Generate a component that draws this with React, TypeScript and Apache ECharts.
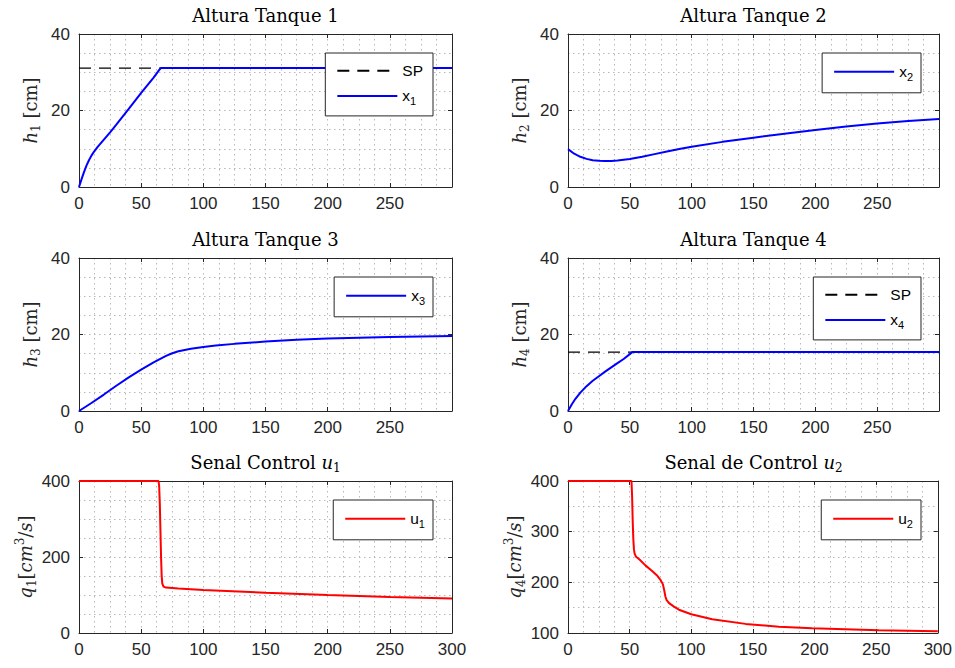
import React, { useEffect, useRef } from "react";
import * as echarts from "echarts";

// ---------------- data ----------------
const X_MAX = 300;
const X_TICK = 50;

const SP1 = 31.1;
const T_X1 = [0, 2, 4, 6, 8, 10, 12, 15, 20, 25, 30, 40, 50, 60, 65, 66, 100, 150, 200, 250, 300];
const V_X1 = [0, 2.0, 3.9, 5.6, 7.0, 8.2, 9.2, 10.5, 12.4, 14.3, 16.3, 20.4, 24.6, 28.6, 30.8, 31.1, 31.1, 31.1, 31.1, 31.1, 31.1];

const T_X2 = [0, 5, 10, 15, 20, 25, 30, 35, 40, 50, 60, 70, 80, 90, 100, 125, 150, 175, 200, 225, 250, 275, 300];
const V_X2 = [9.9, 8.7, 7.9, 7.35, 7.0, 6.85, 6.8, 6.82, 6.9, 7.3, 7.9, 8.6, 9.3, 9.95, 10.5, 11.8, 12.9, 13.95, 14.9, 15.8, 16.6, 17.25, 17.8];

const T_X3 = [0, 10, 20, 30, 40, 50, 60, 70, 75, 80, 85, 90, 100, 110, 125, 150, 175, 200, 250, 300];
const V_X3 = [0, 2.1, 4.3, 6.6, 8.8, 10.8, 12.7, 14.4, 15.1, 15.6, 15.95, 16.25, 16.75, 17.1, 17.55, 18.15, 18.6, 18.95, 19.35, 19.6];

const SP4 = 15.4;
const T_X4 = [0, 3, 6, 10, 15, 20, 25, 30, 35, 40, 45, 52, 100, 150, 200, 250, 300];
const V_X4 = [0, 1.7, 3.2, 4.8, 6.5, 7.9, 9.1, 10.3, 11.4, 12.5, 13.6, 15.4, 15.4, 15.4, 15.4, 15.4, 15.4];

const T_U1 = [0, 64, 64.5, 65, 65.5, 66, 66.5, 67, 68, 70, 80, 100, 150, 200, 250, 300];
const V_U1 = [400, 400, 385, 340, 270, 200, 150, 130, 122, 119.5, 117, 113, 106, 100, 95, 91];

const T_U2 = [0, 51.5, 52, 52.5, 53, 53.5, 54, 55, 58, 63, 68, 72, 75, 77, 78, 79, 80, 82, 86, 90, 100, 117, 144, 171, 198, 225, 252, 275, 300];
const V_U2 = [400, 400, 370, 320, 285, 265, 257, 251, 245, 233, 223, 214, 205, 196, 185, 172, 165, 159, 152, 146, 137, 127, 118, 112.5, 109.5, 107.5, 105.5, 104.5, 103.5];

const TITLES = [
  "{n|Altura Tanque 1}",
  "{n|Altura Tanque 2}",
  "{n|Altura Tanque 3}",
  "{n|Altura Tanque 4}",
  "{n|Senal Control }{i|u}{s|1}",
  "{n|Senal de Control }{i|u}{s|2}",
];
const YLABELS = [
  "{i|h}{s|1}{n| [cm]}",
  "{i|h}{s|2}{n| [cm]}",
  "{i|h}{s|3}{n| [cm]}",
  "{i|h}{s|4}{n| [cm]}",
  "{i|q}{s|1}{n|[}{i|cm}{p|3}{n|/}{i|s}{n|]}",
  "{i|q}{s|4}{n|[}{i|cm}{p|3}{n|/}{i|s}{n|]}",
];
const Y_RANGES = [
  [0, 40, 20, 4],
  [0, 40, 20, 4],
  [0, 40, 20, 4],
  [0, 40, 20, 4],
  [0, 400, 200, 4],
  [100, 400, 100, 2],
];

const zip = (t: number[], v: number[]) => t.map((x, i) => [x, v[i]]);

// ---------------- styles ----------------
const AX = "#262626";
const SERIF = "DejaVu Serif";
const SANS = "Liberation Sans";
const gridLine = { color: "#b8b8b8", width: 1, type: [1.5, 3.5] as any };

const GRIDS = [
  { left: 79, top: 34, width: 373, height: 153 },
  { left: 568, top: 34, width: 371, height: 153 },
  { left: 79, top: 258, width: 373, height: 153 },
  { left: 568, top: 258, width: 371, height: 153 },
  { left: 79, top: 481, width: 373, height: 152 },
  { left: 568, top: 481, width: 371, height: 152 },
];
const TITLE_TOPS = [3, 3, 227, 227, 450, 450];

const titleRich = {
  n: { fontFamily: SERIF, fontSize: 18, color: "#000", lineHeight: 24 },
  i: { fontFamily: SERIF, fontSize: 18, fontStyle: "italic", color: "#000", lineHeight: 24 },
  s: { fontFamily: SERIF, fontSize: 12, color: "#000", lineHeight: 14, verticalAlign: "bottom" },
};
const nameRich = {
  n: { fontFamily: SERIF, fontSize: 18, color: AX, lineHeight: 24 },
  i: { fontFamily: SERIF, fontSize: 18, fontStyle: "italic", color: AX, lineHeight: 24 },
  s: { fontFamily: SERIF, fontSize: 12, color: AX, lineHeight: 14, verticalAlign: "bottom" },
  p: { fontFamily: SERIF, fontSize: 12, color: AX, lineHeight: 12, verticalAlign: "top" },
};
const legendRich = {
  t: { fontFamily: SANS, fontSize: 15.5, color: "#000", lineHeight: 22 },
  s: { fontFamily: SANS, fontSize: 11, color: "#000", lineHeight: 8, verticalAlign: "bottom" },
};

function buildOption() {
  const xAxis: any[] = [];
  const yAxis: any[] = [];
  GRIDS.forEach((_, gi) => {
    const lastRow = gi >= 4;
    const base = {
      type: "value",
      gridIndex: gi,
      min: 0,
      max: X_MAX,
      interval: X_TICK,
      axisLine: { show: true, onZero: false, lineStyle: { color: AX, width: 1 } },
      axisTick: { show: true, inside: true, length: 4, lineStyle: { color: AX, width: 1 } },
      minorTick: { show: false, splitNumber: 4 },
    };
    xAxis.push({
      ...base,
      position: "bottom",
      axisLabel: {
        color: AX,
        fontFamily: SANS,
        fontSize: 17,
        margin: 8,
        formatter: (v: number) => (!lastRow && v === X_MAX ? "" : String(v)),
      },
      splitLine: { show: true, lineStyle: gridLine },
      minorSplitLine: { show: true, lineStyle: gridLine },
    });
    xAxis.push({
      ...base,
      position: "top",
      axisLabel: { show: false },
      splitLine: { show: false },
      minorSplitLine: { show: false },
    });
    const [ymin, ymax, yint, ysplit] = Y_RANGES[gi];
    const ybase = {
      type: "value",
      gridIndex: gi,
      min: ymin,
      max: ymax,
      interval: yint,
      axisLine: { show: true, onZero: false, lineStyle: { color: AX, width: 1 } },
      axisTick: { show: true, inside: true, length: 4, lineStyle: { color: AX, width: 1 } },
      minorTick: { show: false, splitNumber: ysplit },
    };
    yAxis.push({
      ...ybase,
      position: "left",
      name: YLABELS[gi],
      nameLocation: "middle",
      nameGap: 37,
      nameTextStyle: { rich: nameRich },
      axisLabel: { color: AX, fontFamily: SANS, fontSize: 17, margin: 9 },
      splitLine: { show: true, lineStyle: gridLine },
      minorSplitLine: { show: true, lineStyle: gridLine },
    });
    yAxis.push({
      ...ybase,
      position: "right",
      axisLabel: { show: false },
      splitLine: { show: false },
      minorSplitLine: { show: false },
    });
  });

  const line = (name: string, gi: number, data: number[][], color: string, dashed = false) => ({
    type: "line",
    name,
    xAxisIndex: gi * 2,
    yAxisIndex: gi * 2,
    data,
    symbol: "none",
    lineStyle: dashed ? { color, width: 1.2, type: [12, 8] } : { color, width: 2 },
    itemStyle: { color },
    z: dashed ? 2 : 3,
  });

  const series = [
    line("SP", 0, [[0, SP1], [X_MAX, SP1]], "#000", true),
    line("x1", 0, zip(T_X1, V_X1), "#0000ff"),
    line("x2", 1, zip(T_X2, V_X2), "#0000ff"),
    line("x3", 2, zip(T_X3, V_X3), "#0000ff"),
    line("SP", 3, [[0, SP4], [X_MAX, SP4]], "#000", true),
    line("x4", 3, zip(T_X4, V_X4), "#0000ff"),
    line("u1", 4, zip(T_U1, V_U1), "#ff0000"),
    line("u2", 5, zip(T_U2, V_U2), "#ff0000"),
  ];

  const legendDefs = [
    { data: ["SP", "x1"], top: 53, right: 522 },
    { data: ["x2"], top: 53, right: 34 },
    { data: ["x3"], top: 277, right: 522 },
    { data: ["SP", "x4"], top: 277, right: 34 },
    { data: ["u1"], top: 500, right: 522 },
    { data: ["u2"], top: 500, right: 34 },
  ];
  const legend = legendDefs.map((d) => ({
    orient: "vertical",
    top: d.top,
    right: d.right,
    data: d.data,
    selectedMode: false,
    backgroundColor: "#ffffff",
    borderColor: AX,
    borderWidth: 1,
    borderRadius: 0,
    padding: d.data.length === 2 ? [9, 10, 9, 11] : [10, 8, 10, 11],
    itemGap: 7.5,
    itemWidth: 60,
    itemHeight: 22,
    itemStyle: { opacity: 0 },
    lineStyle: { width: 2 },
    textStyle: { rich: legendRich, fontFamily: SANS, fontSize: 15.5, color: "#000" },
    formatter: (name: string) => (name === "SP" ? "{t|SP}" : `{t|${name[0]}}{s|${name.slice(1)}}`),
    z: 10,
  }));

  const title = GRIDS.map((g, gi) => ({
    text: TITLES[gi],
    left: g.left + g.width / 2,
    top: TITLE_TOPS[gi],
    textAlign: "center",
    padding: 0,
    textStyle: { rich: titleRich, fontFamily: SERIF, fontSize: 18, fontWeight: "normal", color: "#000" },
  }));

  return {
    animation: false,
    backgroundColor: "#ffffff",
    title,
    legend,
    grid: GRIDS.map((g) => ({ ...g, containLabel: false })),
    xAxis,
    yAxis,
    series,
  };
}

export default function App() {
  const ref = useRef<HTMLDivElement>(null);
  useEffect(() => {
    if (!ref.current) return;
    const chart = echarts.init(ref.current, undefined, { renderer: "svg" });
    chart.setOption(buildOption() as any);
    return () => chart.dispose();
  }, []);
  return (
    <div
      ref={ref}
      style={{ position: "absolute", left: 0, top: 0, width: 955, height: 668, background: "#fff" }}
    />
  );
}
